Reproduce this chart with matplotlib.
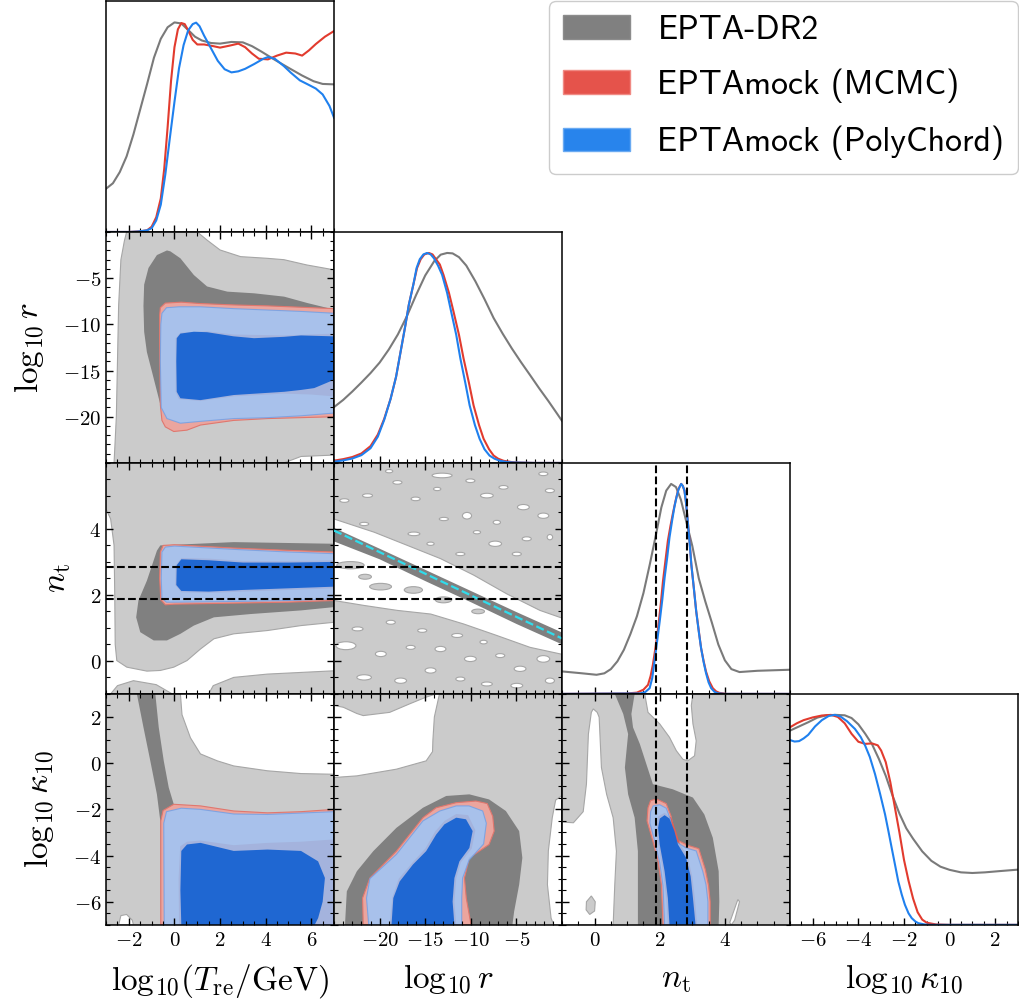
import matplotlib
matplotlib.use("Agg")
import matplotlib.pyplot as plt
from matplotlib.patches import Patch, Ellipse
from matplotlib.ticker import FixedLocator, MultipleLocator, FuncFormatter

plt.rcParams['mathtext.fontset'] = 'cm'

# ---- parameters / axes ----
labels = [r'$\mathrm{log}_{10}(T_{\rm re}/{\rm GeV})$', r'$\log_{10}r$', r'$n_{\rm t}$', r'$\log_{10}\kappa_{10}$']
lims = [(-3, 7), (-25, 0), (-1, 6), (-7, 3)]
major_ticks = [[-2, 0, 2, 4, 6], [-20, -15, -10, -5], [0, 2, 4], [-6, -4, -2, 0, 2]]
minor_step = [0.5, 1, 0.5, 0.5]
nt_bounds = [1.88, 2.85]
line_r = [-25, 0]
line_nt = [3.95, 0.68]

names = ['EPTA-DR2', 'EPTAmock (MCMC)', 'EPTAmock (PolyChord)']

# ---- 1D marginals (normalised to peak 1) ----
T_gray_x = [-3, -2.7, -2.4, -2.1, -1.8, -1.5, -1.2, -0.9, -0.6, -0.3, 0.0, 0.3, 0.6, 0.9, 1.2, 1.6, 2.0, 2.5, 3.0, 3.4, 3.8,
            4.4, 5.0, 5.6, 6.1, 6.5, 7.0]
T_gray_y = [0.206, 0.232, 0.285, 0.36, 0.465, 0.585, 0.705, 0.83, 0.92, 0.975, 0.998, 0.993, 0.962, 0.93, 0.912, 0.9, 0.897,
            0.905, 0.903, 0.885, 0.86, 0.82, 0.782, 0.745, 0.718, 0.705, 0.703]
T_red_x = [-3, -2, -1.5, -1.2, -1.0, -0.8, -0.6, -0.45, -0.3, -0.15, 0.0, 0.15, 0.3, 0.45, 0.6, 0.8, 1.0, 1.3, 1.7, 2.0, 2.4,
           2.8, 3.1, 3.4, 3.7, 4.1, 4.5, 4.9, 5.3, 5.6, 5.9, 6.2, 6.6, 7.0]
T_red_y = [0, 0, 0.003, 0.008, 0.025, 0.07, 0.16, 0.3, 0.5, 0.72, 0.88, 0.965, 0.995, 0.99, 0.96, 0.915, 0.893, 0.893, 0.885,
           0.878, 0.887, 0.897, 0.88, 0.85, 0.825, 0.822, 0.84, 0.854, 0.85, 0.84, 0.865, 0.895, 0.93, 0.957]
T_blue_x = [-3, -2, -1.6, -1.2, -1.0, -0.8, -0.6, -0.4, -0.2, 0.0, 0.2, 0.4, 0.6, 0.8, 0.95, 1.1, 1.3, 1.6, 1.9, 2.2, 2.5, 2.8,
            3.1, 3.5, 3.9, 4.1, 4.4, 4.8, 5.1, 5.5, 5.9, 6.2, 6.5, 6.8, 7.0]
T_blue_y = [0, 0, 0.002, 0.008, 0.018, 0.055, 0.13, 0.275, 0.45, 0.62, 0.78, 0.89, 0.96, 0.99, 0.997, 0.98, 0.935, 0.875,
            0.815, 0.775, 0.76, 0.765, 0.777, 0.8, 0.825, 0.833, 0.825, 0.79, 0.759, 0.722, 0.7, 0.683, 0.655, 0.6, 0.544]

r_gray_x = [-25, -24, -23, -22, -21, -20, -19, -18, -17, -16, -15, -14, -13.3, -12.6, -12, -11.3, -10.5, -9.5, -8.5, -7.5,
            -6.5, -5.5, -4.5, -3.5, -2.5, -1.5, -0.5, 0]
r_gray_y = [0.266, 0.3, 0.34, 0.383, 0.428, 0.478, 0.54, 0.612, 0.7, 0.8, 0.893, 0.962, 0.992, 1.0, 0.998, 0.98, 0.94, 0.865,
            0.78, 0.69, 0.615, 0.545, 0.48, 0.418, 0.355, 0.295, 0.232, 0.2]
r_red_x = [-25, -24, -23, -22, -21, -20.2, -19.5, -18.8, -18.2, -17.7, -17.2, -16.8, -16.3, -15.9, -15.5, -15.1, -14.6, -14.2,
           -13.9, -13.4, -13.0, -12.4, -11.9, -11.3, -10.8, -10.2, -9.7, -9.1, -8.6, -8.0, -7.5, -7.0, -6.4, -5.5, -5.0, -3, 0]
r_red_y = [0.011, 0.018, 0.028, 0.045, 0.08, 0.135, 0.21, 0.305, 0.41, 0.53, 0.65, 0.753, 0.85, 0.928, 0.97, 0.993, 1.0, 0.993,
           0.975, 0.945, 0.896, 0.81, 0.721, 0.61, 0.498, 0.38, 0.274, 0.18, 0.115, 0.065, 0.035, 0.02, 0.01, 0.004, 0.002, 0, 0]
r_blue_x = [-25, -24, -23, -22, -21, -20.2, -19.5, -18.8, -18.2, -17.7, -17.2, -16.8, -16.3, -15.95, -15.6, -15.2, -14.8, -14.4,
            -14.05, -13.6, -13.15, -12.6, -12.16, -11.6, -11.15, -10.6, -10.13, -9.55, -9.04, -8.5, -7.95, -7.4, -6.8, -6.0,
            -5.3, -3, 0]
r_blue_y = [0.006, 0.012, 0.021, 0.037, 0.07, 0.125, 0.205, 0.305, 0.41, 0.53, 0.65, 0.753, 0.85, 0.928, 0.97, 0.993, 1.0, 0.993,
            0.975, 0.94, 0.896, 0.81, 0.721, 0.61, 0.498, 0.38, 0.274, 0.18, 0.115, 0.065, 0.035, 0.02, 0.01, 0.004, 0.002, 0, 0]

nt_gray_x = [-1, -0.45, 0.06, 0.3, 0.5, 0.7, 0.9, 1.1, 1.3, 1.5, 1.7, 1.9, 2.05, 2.2, 2.35, 2.5, 2.65, 2.8, 3.0, 3.2, 3.4,
             3.6, 3.8, 4.0, 4.2, 4.45, 5.0, 6.0]
nt_gray_y = [0.107, 0.099, 0.091, 0.098, 0.118, 0.155, 0.21, 0.285, 0.37, 0.48, 0.62, 0.77, 0.888, 0.968, 1.0, 0.985, 0.925,
             0.83, 0.705, 0.55, 0.44, 0.34, 0.235, 0.16, 0.118, 0.104, 0.11, 0.115]
nt_red_x = [-1, 1.0, 1.3, 1.5, 1.64, 1.72, 1.79, 1.87, 1.95, 2.03, 2.1, 2.18, 2.25, 2.33, 2.4, 2.48, 2.56, 2.62, 2.66, 2.71,
            2.76, 2.81, 2.86, 2.92, 2.97, 3.05, 3.12, 3.2, 3.27, 3.35, 3.42, 3.52, 3.63, 3.73, 3.83, 4.04, 6]
nt_red_y = [0, 0.002, 0.006, 0.02, 0.043, 0.085, 0.139, 0.22, 0.314, 0.425, 0.537, 0.64, 0.729, 0.8, 0.856, 0.915, 0.968,
            0.99, 1.0, 0.99, 0.968, 0.91, 0.825, 0.72, 0.617, 0.5, 0.394, 0.3, 0.218, 0.155, 0.107, 0.06, 0.027, 0.012,
            0.005, 0, 0]
nt_blue_x = [-1, 1.39, 1.55, 1.69, 1.77, 1.84, 1.92, 2.0, 2.08, 2.15, 2.23, 2.3, 2.38, 2.45, 2.52, 2.58, 2.66, 2.71, 2.76,
             2.81, 2.86, 2.92, 2.97, 3.05, 3.12, 3.2, 3.27, 3.35, 3.42, 3.5, 3.58, 3.68, 3.78, 4.0, 6]
nt_blue_y = [0, 0.002, 0.008, 0.027, 0.075, 0.155, 0.25, 0.346, 0.45, 0.553, 0.65, 0.745, 0.825, 0.89, 0.94, 0.975, 1.0, 0.99,
             0.968, 0.905, 0.825, 0.715, 0.617, 0.5, 0.394, 0.295, 0.218, 0.15, 0.1, 0.055, 0.027, 0.01, 0.003, 0, 0]

k_gray_x = [-7, -6.6, -6.2, -5.8, -5.4, -5.0, -4.6, -4.3, -4.0, -3.7, -3.4, -3.1, -2.8, -2.5, -2.2, -1.9, -1.6, -1.2, -0.8,
            -0.4, 0, 0.5, 1.0, 1.55, 2.2, 3.0]
k_gray_y = [0.925, 0.945, 0.965, 0.987, 0.998, 1.0, 0.998, 0.985, 0.955, 0.91, 0.86, 0.79, 0.71, 0.615, 0.53, 0.46, 0.41,
            0.35, 0.305, 0.277, 0.262, 0.25, 0.247, 0.25, 0.256, 0.263]
k_red_x = [-7, -6.7, -6.4, -6.0, -5.6, -5.2, -4.9, -4.6, -4.3, -4.0, -3.7, -3.4, -3.15, -3.0, -2.8, -2.6, -2.4, -2.2, -2.0,
           -1.8, -1.6, -1.4, -1.2, -1.0, -0.6, 0, 3]
k_red_y = [0.941, 0.96, 0.975, 0.988, 0.997, 1.0, 0.99, 0.96, 0.91, 0.872, 0.862, 0.864, 0.855, 0.83, 0.775, 0.68, 0.56, 0.44,
           0.31, 0.21, 0.125, 0.06, 0.025, 0.01, 0.002, 0, 0]
k_blue_x = [-7, -6.8, -6.6, -6.4, -6.2, -5.9, -5.6, -5.3, -5.03, -4.8, -4.5, -4.15, -3.9, -3.7, -3.5, -3.27, -3.05, -2.83,
            -2.68, -2.54, -2.4, -2.25, -2.1, -1.96, -1.8, -1.66, -1.5, -1.37, -1.1, -0.9, 3]
k_blue_y = [0.88, 0.873, 0.875, 0.888, 0.905, 0.945, 0.975, 0.995, 1.0, 0.993, 0.97, 0.933, 0.895, 0.853, 0.8, 0.718, 0.625,
            0.526, 0.445, 0.367, 0.29, 0.207, 0.145, 0.096, 0.055, 0.032, 0.016, 0.008, 0.002, 0, 0]

# ---- 2D credible regions, (x, y) vertices ----
# log r vs log T
rT_gray95 = [(-2.65, -25), (-2.55, -20), (-2.5, -14), (-2.45, -8), (-2.35, -3), (-2.2, -1), (-2.1, 0), (1.0, 0), (1.44, -0.9),
             (2.0, -1.95), (2.9, -2.67), (4.06, -2.85), (4.8, -3.0), (5.8, -3.57), (7, -4.1), (7, -24.15), (5.55, -24.3), (4.8, -25)]
rT_gray68 = [(-0.33, -2.0), (-0.18, -2.1), (0.26, -2.85), (0.85, -4.66), (1.43, -5.9), (2.32, -6.46), (3.49, -6.64), (4.81, -7.0),
             (5.84, -7.7), (7.0, -8.4), (7.0, -15), (1.0, -19), (-0.47, -20.2), (-0.69, -18.0), (-0.99, -15.1), (-1.21, -13.0),
             (-1.33, -10.8), (-1.36, -8.0), (-1.33, -5.7), (-1.14, -3.9), (-0.77, -2.5)]
rT_red95 = [(-0.62, -8.2), (-0.4, -7.7), (0.3, -7.6), (1.14, -7.75), (2.6, -7.9), (4.08, -8.0), (5.55, -8.15), (7, -8.3), (7, -20.0),
            (5.55, -20.1), (4.08, -20.2), (2.6, -20.4), (1.14, -20.9), (0.55, -21.45), (-0.03, -21.6), (-0.4, -21.1), (-0.55, -20.4),
            (-0.62, -18.7), (-0.65, -12), (-0.65, -9)]
rT_red68 = [(0.05, -11.5), (0.26, -10.9), (1.43, -10.75), (2.6, -11.1), (4.81, -11.2), (7, -11.0), (7, -17.8), (6.0, -17.6),
            (4.8, -17.5), (2.6, -17.8), (1.14, -18.3), (0.2, -18.1), (0.05, -17.3)]
rT_blue95 = [(-0.55, -8.8), (-0.35, -8.2), (0.2, -8.1), (1.14, -8.1), (2.6, -8.3), (4.08, -8.45), (5.55, -8.6), (7, -8.8), (7, -19.6),
             (5.55, -19.9), (4.08, -20.1), (2.6, -20.2), (1.14, -20.5), (0.26, -20.7), (-0.33, -20.2), (-0.58, -19.0), (-0.62, -14), (-0.6, -10)]
rT_blue68 = [(0.1, -11.5), (0.26, -11.0), (0.85, -10.8), (1.43, -10.85), (2.6, -11.3), (3.49, -11.5), (4.81, -11.35), (5.55, -11.2),
             (7, -11.3), (7, -16.0), (6.13, -16.9), (5.55, -17.1), (4.81, -17.3), (2.6, -17.65), (1.14, -18.2), (0.26, -18.0), (0.1, -17.3), (0.08, -14)]

# n_t vs log T
nT_gray95 = [(-3, 6), (7, 6), (7, 1.17), (5.55, 1.07), (4.08, 0.92), (2.6, 0.82), (1.73, 0.67), (1.14, 0.36), (0.55, 0.01),
             (-0.03, -0.19), (-0.62, -0.29), (-1.21, -0.31), (-2.09, -0.19), (-2.53, 0.01), (-2.6, 0.5), (-2.62, 2.0),
             (-2.65, 3.5), (-2.8, 4.3), (-3, 4.6)]
nT_gray95_b = [(1.5, -1), (1.7, -0.75), (2.6, -0.5), (4.08, -0.4), (5.55, -0.35), (7, -0.3), (7, -1)]
nT_gray95_c = [(-2.8, -1), (-2.5, -0.75), (-1.8, -0.6), (-0.8, -0.72), (-0.1, -1)]
nT_gray68 = [(-0.62, 3.5), (2.6, 3.6), (7, 3.55), (7, 1.63), (5.55, 1.53), (3.34, 1.42), (1.73, 1.32), (0.85, 1.07), (0.26, 0.82),
             (-0.33, 0.62), (-0.91, 0.62), (-1.5, 0.87), (-1.68, 1.32), (-1.58, 1.83), (-1.21, 2.43), (-0.77, 3.34)]
nT_red95 = [(-0.62, 3.3), (-0.5, 3.5), (0, 3.52), (2.6, 3.42), (5.0, 3.35), (7, 3.3), (7, 1.83), (5, 1.78), (2.6, 1.75), (0, 1.72),
            (-0.4, 1.7), (-0.6, 1.85), (-0.65, 2.5)]
nT_red68 = [(0.05, 2.9), (0.3, 3.12), (1.5, 3.1), (3, 3.03), (5, 3.03), (7, 3.05), (7, 2.2), (5, 2.15), (3, 2.1), (1.5, 2.06),
            (0.3, 2.08), (0.03, 2.3)]
nT_blue95 = [(-0.55, 3.3), (-0.4, 3.45), (0, 3.48), (2.6, 3.38), (5.0, 3.3), (7, 3.25), (7, 1.88), (5, 1.83), (2.6, 1.8), (0, 1.78),
             (-0.35, 1.78), (-0.55, 1.9), (-0.58, 2.5)]
nT_blue68 = [(0.1, 2.9), (0.3, 3.08), (1.5, 3.05), (3, 2.98), (5, 2.98), (7, 3.0), (7, 2.25), (5, 2.2), (3, 2.15), (1.5, 2.1),
             (0.3, 2.12), (0.08, 2.3)]

# n_t vs log r (speckled prior-like region)
nr_gray95_up = [(-25, 6), (0, 6), (0, 1.3), (-0.24, 1.32), (-2.42, 1.53), (-6.05, 2.03), (-9.69, 2.6), (-13.33, 3.1),
                (-16.96, 3.5), (-20.6, 3.9), (-25, 4.3)]
nr_gray95_lo = [(-25, 1.83), (-21.7, 1.68), (-18.05, 1.53), (-14.4, 1.42), (-10.8, 1.12), (-7.15, 0.77), (-3.5, 0.41), (0, 0.2),
                (0, -1), (-25, -1)]
nr_gray68 = [(-25, 4.03), (-20, 3.4), (-15, 2.76), (-10, 2.12), (-5, 1.48), (0, 0.86), (0, 0.5), (-5, 1.12), (-10, 1.78),
             (-15, 2.42), (-20, 3.08), (-25, 3.62)]
hole_r = [-18.96, -13.15, -10.05, -21.33, -16.05, -13.69, -8.24, -4.24, -10.42, -7.15, -2.05, -1.33, -2.05, -7.33, -3.87,
          -14.42, -11.15, -4.96, -16.24, -9.33, -21.7, -12.96, -1.33, -18.05, -6.42, -23.87,
          -23.7, -19.87, -16.6, -13.33, -10.05, -6.78, -4.6, -2.05, -21.7, -17.7, -14.42, -11.15, -8.24, -4.96, -1.33,
          -22.42, -18.78, -15.33, -11.5, -8.6]
hole_nt = [5.75, 5.62, 5.46, 5.01, 4.91, 5.21, 5.01, 4.66, 4.4, 4.2, 4.4, 5.16, 5.67, 3.55, 3.7,
           3.55, 3.24, 3.24, 3.85, 3.9, 4.15, 4.3, 3.75, 5.41, 5.26, 4.86,
           0.46, 0.21, 0.41, 0.36, 0.06, 0.16, -0.24, 0.06, -0.5, -0.6, -0.29, -0.55, -0.7, -0.75, -0.6,
           0.97, 1.17, 0.92, 0.77, 0.57]
hole_w = [0.8, 2.2, 1.0, 1.1, 1.0, 0.8, 1.4, 1.3, 1.0, 0.8, 1.2, 1.0, 1.0, 1.4, 1.0,
          0.8, 1.0, 1.0, 1.3, 0.8, 1.0, 1.0, 0.6, 1.0, 1.0, 1.0,
          2.2, 1.2, 1.0, 1.2, 1.3, 1.0, 1.3, 1.4, 1.6, 1.3, 1.2, 1.0, 1.2, 1.3, 1.0,
          1.2, 1.0, 1.0, 1.2, 0.8]
hole_h = [0.1, 0.14, 0.11, 0.11, 0.11, 0.1, 0.14, 0.16, 0.2, 0.12, 0.16, 0.12, 0.11, 0.16, 0.12,
          0.1, 0.1, 0.11, 0.11, 0.1, 0.1, 0.1, 0.16, 0.11, 0.11, 0.11,
          0.24, 0.16, 0.12, 0.16, 0.16, 0.12, 0.16, 0.2, 0.16, 0.16, 0.16, 0.12, 0.12, 0.14, 0.16,
          0.12, 0.12, 0.11, 0.12, 0.11]
isle_r = [-23.2, -21.6, -19.9, -16.3, -13.0, -9.2]
isle_nt = [2.9, 2.55, 2.25, 2.15, 1.85, 1.5]
isle_w = [3.0, 1.4, 2.4, 2.0, 1.8, 1.4]
isle_h = [0.22, 0.15, 0.2, 0.2, 0.18, 0.14]

# log kappa vs log T
kT_gray95 = [(-3, 3), (0.26, 3), (0.33, 2.1), (0.7, 1.1), (1.14, 0.4), (1.88, 0.1), (2.6, -0.12), (4.08, -0.33), (5.55, -0.45),
             (7, -0.48), (7, -7), (-3, -7)]
kT_white = [[(-2.45, -7), (-2.35, -6.6), (-2.1, -6.55), (-1.85, -6.8), (-1.8, -7)]]
kT_gray68 = [(-1.65, 3), (-0.84, 3), (-0.69, 1.55), (-0.47, 0.1), (-0.25, -1.06), (-0.03, -1.78), (0.5, -2.2), (3, -2.5), (7, -2.5),
             (7, -7), (-0.6, -7), (-0.62, -2.51), (-0.77, -1.35), (-1.06, 0.1), (-1.36, 1.55)]
kT_red95 = [(-0.6, -7), (-0.6, -2.5), (-0.5, -2.05), (-0.03, -1.78), (1.14, -1.85), (2.6, -2.07), (4.08, -2.15), (5.55, -2.1),
            (7, -2.0), (7, -7)]
kT_red68 = [(0.2, -7), (0.18, -5), (0.25, -3.6), (0.55, -3.4), (1.14, -3.35), (2.6, -3.55), (4.08, -3.45), (5.55, -3.4),
            (7, -3.3), (7, -7)]
kT_blue95 = [(-0.45, -7), (-0.47, -2.6), (-0.35, -2.1), (0.3, -1.95), (1.14, -2.0), (2.6, -2.2), (4.08, -2.22), (7, -2.1), (7, -7)]
kT_blue68 = [(0.3, -7), (0.26, -5.5), (0.3, -3.8), (0.55, -3.52), (1.14, -3.45), (2.6, -3.8), (4.08, -3.74), (5.55, -3.8),
             (6.3, -4.25), (6.6, -4.97), (6.5, -6.0), (6.3, -6.71), (6.15, -7)]

# log kappa vs log r
kr_gray95 = [(-25, 3), (0, 3), (0, -7), (-25, -7)]
kr_white = [[(-25, 2.5), (-23.98, 2.42), (-22.5, 2.15), (-21.8, 2.06), (-18.9, 2.2), (-16.7, 2.57), (-14.9, 2.86), (-13.8, 3.0),
             (-13.44, 3.0), (-14.0, 2.0), (-14.16, 1.0), (-14.2, 0.5), (-14.9, 0.1), (-18.16, -0.26), (-22.5, -0.55), (-25, -0.62)],
            [(0, -1.4), (-0.7, -1.6), (-1.07, -2.36), (-1.5, -3.8), (-1.6, -5.26), (-1.2, -6.71), (-0.9, -7), (0, -7)]]
kr_gray68 = [(-23.8, -7), (-23.6, -5.55), (-22.5, -4.68), (-20.7, -3.81), (-18.16, -2.8), (-15.25, -1.93), (-12.7, -1.42),
             (-10.16, -1.35), (-8.0, -1.57), (-6.16, -2.07), (-4.7, -2.94), (-4.35, -4.1), (-4.7, -5.26), (-5.25, -6.42), (-5.44, -7)]
kr_red95 = [(-21.8, -7), (-21.87, -5.84), (-21.07, -4.97), (-18.16, -3.81), (-15.25, -2.36), (-13.8, -1.93), (-11.6, -1.71),
            (-9.44, -1.64), (-8.2, -1.75), (-7.6, -2.3), (-7.44, -2.94), (-8.0, -3.52), (-10.16, -4.1), (-10.7, -4.97),
            (-10.5, -5.84), (-9.98, -7)]
kr_red68 = [(-18.9, -7), (-18.6, -5.8), (-17.9, -5.0), (-16.4, -4.3), (-15, -3.7), (-13.9, -2.95), (-12.9, -2.5), (-11.6, -2.2),
            (-10.3, -2.25), (-9.5, -2.9), (-9.9, -3.7), (-11.1, -4.3), (-11.6, -5.0), (-11.8, -6.0), (-11.6, -7)]
kr_blue95 = [(-21.2, -7), (-21.44, -5.84), (-21.07, -5.0), (-18.16, -3.95), (-15.25, -2.5), (-13.4, -2.07), (-11.6, -1.85),
             (-10.2, -1.85), (-8.7, -2.07), (-8.3, -2.6), (-8.6, -3.5), (-10.2, -4.2), (-10.9, -4.97), (-11.0, -5.84), (-11.0, -7)]
kr_blue68 = [(-18.7, -7), (-18.5, -5.84), (-17.8, -5.12), (-16.35, -4.39), (-14.9, -3.81), (-13.8, -3.09), (-12.9, -2.65),
             (-11.6, -2.36), (-10.53, -2.43), (-9.8, -2.94), (-10.16, -3.67), (-11.25, -4.25), (-11.8, -4.97), (-12.0, -5.99), (-11.8, -7)]

# log kappa vs n_t
kn_gray95 = [(-1, 3), (6, 3), (6, -7), (-1, -7)]
kn_white = [[(1.54, 3), (1.64, 2.2), (2.0, 1.7), (2.3, 1.12), (2.51, 0.54), (2.71, 0.17), (2.86, 0.1), (3.07, 0.32), (3.12, 0.97),
             (3.02, 1.7), (2.97, 2.5), (3.02, 3)],
            [(-1, -2.55), (-0.65, -2.58), (-0.35, -2.1), (-0.25, -0.9), (-0.19, 1.26), (-0.1, 2.2), (-0.04, 2.35), (0.08, 2.2),
             (0.14, 1.99), (0.21, -0.19), (0.37, -1.35), (0.57, -2.36), (0.67, -3.81), (0.62, -5.26), (0.57, -7), (-1, -7)],
            [(4.4, -5.9), (4.45, -6.0), (4.3, -6.8), (4.2, -7), (4.15, -6.9), (4.3, -6.3)]]
kn_isle = [(-0.25, -6.0), (-0.1, -5.75), (0.02, -6.0), (0.0, -6.4), (-0.15, -6.55), (-0.26, -6.35)]
kn_gray68 = [(0.62, 3), (1.23, 3), (1.13, 2.13), (1.18, 1.55), (1.39, 0.83), (1.59, -0.04), (1.79, -0.91), (2.4, -1.13),
             (3.02, -1.49), (3.37, -2.22), (3.63, -3.23), (3.81, -4.68), (3.83, -5.99), (3.81, -7), (1.33, -7), (1.33, -5.26),
             (1.33, -3.81), (1.23, -2.36), (1.03, -1.35), (0.93, -0.19), (0.98, 0.54), (1.03, 1.26), (0.88, 2.13)]
kn_red95 = [(1.64, -1.93), (1.72, -1.62), (1.9, -1.55), (2.2, -1.75), (2.35, -2.3), (2.5, -3.3), (2.85, -3.55), (3.2, -3.7),
            (3.4, -4.6), (3.5, -5.3), (3.55, -6), (3.55, -7), (2.1, -7), (2.05, -5.26), (1.95, -4.25), (1.79, -3.38), (1.61, -2.5)]
kn_red68 = [(1.95, -2.3), (2.15, -2.15), (2.35, -2.35), (2.5, -2.94), (2.62, -3.5), (2.86, -4.05), (3.0, -4.9), (3.08, -5.84),
            (3.15, -7), (2.25, -7), (2.2, -5.84), (2.1, -4.68), (1.95, -3.52), (1.9, -2.8)]
kn_blue95 = [(1.72, -2.1), (1.8, -1.85), (2.0, -1.8), (2.2, -1.95), (2.32, -2.4), (2.46, -3.38), (2.81, -3.67), (3.12, -3.8),
             (3.32, -4.68), (3.42, -5.26), (3.48, -6), (3.48, -7), (2.15, -7), (2.1, -5.3), (2.0, -4.3), (1.85, -3.4), (1.7, -2.6)]
kn_blue68 = [(2.0, -2.4), (2.15, -2.25), (2.3, -2.4), (2.45, -2.94), (2.56, -3.52), (2.81, -4.1), (2.95, -4.9), (3.02, -5.84),
             (3.1, -7), (2.3, -7), (2.25, -5.84), (2.15, -4.68), (2.0, -3.52), (1.95, -2.8)]

# ---- colours ----
c_gray, c_red, c_blue = '#7a7a7a', '#e23b2e', '#1f80ee'
g95, g68, g_edge = '#cbcbcb', '#808080', '#a6a6a6'
r95, r68, r_edge = '#eba59e', '#d96058', '#e0776e'
b95, b68, b_edge = '#97c9ff', '#1f67d2', '#6f9fe6'


def fill(ax, pts, **kw):
    xs, ys = zip(*pts)
    ax.fill(xs, ys, **kw)


def draw_2d(ax, gray95, white, gray68, red95=None, red68=None, blue95=None, blue68=None):
    for p in gray95:
        fill(ax, p, fc=g95, ec=g_edge, lw=0.8)
    for p in white:
        fill(ax, p, fc='white', ec=g_edge, lw=0.8)
    for p in gray68:
        fill(ax, p, fc=g68, ec='none')
    if red95:
        fill(ax, red95, fc=r95, ec=r_edge, lw=0.8)
        fill(ax, red68, fc=r68, ec='none')
        fill(ax, blue95, fc=b95, ec=b_edge, lw=0.8, alpha=0.8)
        fill(ax, blue68, fc=b68, ec='none')


fig, axes = plt.subplots(4, 4, figsize=(10.2, 10.02), dpi=100)
fig.subplots_adjust(left=0.104, right=0.998, top=0.999, bottom=0.077, wspace=0, hspace=0)
fmt = FuncFormatter(lambda v, p: f'${v:g}$')

one_d = {0: (T_gray_x, T_gray_y, T_red_x, T_red_y, T_blue_x, T_blue_y),
         1: (r_gray_x, r_gray_y, r_red_x, r_red_y, r_blue_x, r_blue_y),
         2: (nt_gray_x, nt_gray_y, nt_red_x, nt_red_y, nt_blue_x, nt_blue_y),
         3: (k_gray_x, k_gray_y, k_red_x, k_red_y, k_blue_x, k_blue_y)}

for i in range(4):
    for j in range(4):
        ax = axes[i, j]
        if j > i:
            ax.axis('off')
            continue
        ax.set_xlim(lims[j])
        ax.xaxis.set_major_locator(FixedLocator(major_ticks[j]))
        ax.xaxis.set_minor_locator(MultipleLocator(minor_step[j]))
        ax.xaxis.set_major_formatter(fmt)
        if i == j:
            gx, gy, rx, ry, bx, by = one_d[i]
            ax.plot(gx, gy, color=c_gray, lw=1.5)
            ax.plot(rx, ry, color=c_red, lw=1.5)
            ax.plot(bx, by, color=c_blue, lw=1.5)
            ax.set_ylim(0, 1.1)
            ax.set_yticks([])
            ax.tick_params(axis='x', which='both', direction='in', top=False)
        else:
            ax.set_ylim(lims[i])
            ax.yaxis.set_major_locator(FixedLocator(major_ticks[i]))
            ax.yaxis.set_minor_locator(MultipleLocator(minor_step[i]))
            ax.yaxis.set_major_formatter(fmt)
            ax.tick_params(which='both', direction='in', top=True, right=True)
        ax.tick_params(which='major', length=5, width=1, labelsize=15)
        ax.tick_params(which='minor', length=3, width=0.8)
        for s in ax.spines.values():
            s.set_linewidth(1.1)
        if i < 3:
            ax.tick_params(labelbottom=False)
        else:
            ax.set_xlabel(labels[j], fontsize=24, labelpad=9)
        if j == 0 and i > 0:
            ax.set_ylabel(labels[i], fontsize=24, labelpad=12)
        else:
            ax.tick_params(labelleft=False)

draw_2d(axes[1, 0], [rT_gray95], [], [rT_gray68], rT_red95, rT_red68, rT_blue95, rT_blue68)
draw_2d(axes[2, 0], [nT_gray95, nT_gray95_b, nT_gray95_c], [], [nT_gray68], nT_red95, nT_red68, nT_blue95, nT_blue68)
draw_2d(axes[3, 0], [kT_gray95], kT_white, [kT_gray68], kT_red95, kT_red68, kT_blue95, kT_blue68)
draw_2d(axes[3, 1], [kr_gray95], kr_white, [kr_gray68], kr_red95, kr_red68, kr_blue95, kr_blue68)
draw_2d(axes[3, 2], [kn_gray95], kn_white, [])
fill(axes[3, 2], kn_isle, fc=g95, ec=g_edge, lw=0.8)
draw_2d(axes[3, 2], [], [], [kn_gray68], kn_red95, kn_red68, kn_blue95, kn_blue68)

# n_t vs log r: speckled region with the diagonal degeneracy
ax = axes[2, 1]
draw_2d(ax, [nr_gray95_up, nr_gray95_lo], [], [])
for x, y, w, h in zip(isle_r, isle_nt, isle_w, isle_h):
    ax.add_patch(Ellipse((x, y), w, h, fc=g95, ec=g_edge, lw=0.8))
for x, y, w, h in zip(hole_r, hole_nt, hole_w, hole_h):
    ax.add_patch(Ellipse((x, y), w, h, fc='white', ec=g_edge, lw=0.8))
fill(ax, nr_gray68, fc=g68, ec='none')
ax.plot(line_r, line_nt, color='#30dcec', lw=1.6, ls='--', zorder=3)

# n_t bounds
for ax in (axes[2, 0], axes[2, 1]):
    for b in nt_bounds:
        ax.axhline(b, color='k', lw=1.5, ls='--', zorder=3)
for ax in (axes[2, 2], axes[3, 2]):
    for b in nt_bounds:
        ax.axvline(b, color='k', lw=1.5, ls='--', zorder=3)

handles = [Patch(fc='#808080', ec='#8c8c8c'), Patch(fc='#e5534b', ec='#f08a84'), Patch(fc='#2884ec', ec='#6aaaf2')]
fig.legend(handles, names, loc='upper right', bbox_to_anchor=(0.998, 0.999), borderaxespad=0, labelspacing=0.68,
           prop={'family': 'cmss10', 'size': 24.3}, edgecolor='#cccccc', framealpha=1)

fig.savefig('out.png', dpi=100)
